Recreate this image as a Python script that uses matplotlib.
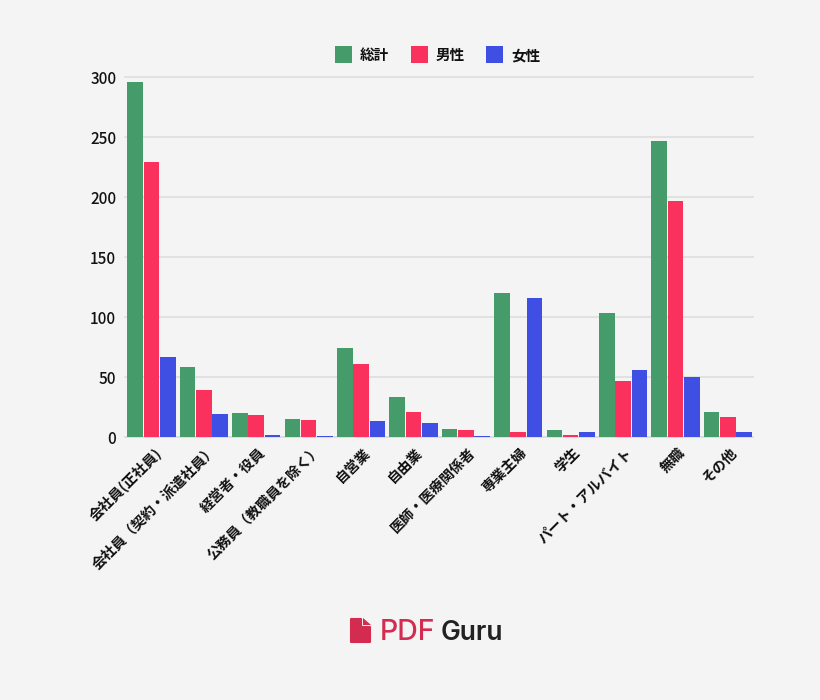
import matplotlib
matplotlib.use("Agg")
import matplotlib.pyplot as plt
import numpy as np
from matplotlib.patches import Polygon

plt.rcParams['font.family'] = ['Noto Sans CJK JP', 'DejaVu Sans']

categories = ["会社員(正社員)", "会社員（契約・派遣社員）", "経営者・役員", "公務員（教職員を除く）",
              "自営業", "自由業", "医師・医療関係者", "専業主婦", "学生", "パート・アルバイト", "無職", "その他"]
total = [296, 58, 20, 15, 74, 33, 7, 120, 6, 103, 247, 21]
male = [229, 39, 18, 14, 61, 21, 6, 4, 2, 47, 197, 17]
female = [67, 19, 2, 1, 13, 12, 1, 116, 4, 56, 50, 4]
series_names = ["総計", "男性", "女性"]
colors = ["#459B69", "#F9315C", "#3F4FE3"]
yticks = [0, 50, 100, 150, 200, 250, 300]

W, H = 820, 700
BG = "#F4F4F4"
fig = plt.figure(figsize=(8.2001, 7.0001), dpi=100, facecolor=BG)
ax = fig.add_axes([125.3/W, 1-437/H, 627.7/W, 360/H], facecolor=BG)

x = np.arange(len(categories))
bw = 15.6/52.4
step = 16.3/52.4
for i, (vals, c, n) in enumerate(zip([total, male, female], colors, series_names)):
    ax.bar(x + (i-1)*step, vals, width=bw, color=c, label=n, zorder=3)

ax.set_xlim(-0.5, 11.48)
ax.set_ylim(0, 300)
ax.set_yticks(yticks)
ax.set_yticklabels([str(v) for v in yticks], fontsize=11, fontweight='medium', color='#111111')
ax.yaxis.grid(True, color='#DCDCDC', lw=1.1, zorder=0)
for g in ax.get_ygridlines():
    g.set_clip_on(False)
ax.set_axisbelow(True)
ax.tick_params(axis='y', length=0, pad=6.5)
ax.tick_params(axis='x', length=0, pad=6)
ax.set_xticks(x)
ax.set_xticklabels(categories, rotation=45, ha='right', rotation_mode='anchor',
                   fontsize=10.2, fontweight='bold', color='#111111')
for t in ax.get_xticklabels():
    # a trailing full-width bracket leaves a blank half em: pull such labels up along their slope
    dx = 5.5 if t.get_text().endswith("）") else 2
    dy = 3.5 if t.get_text().endswith("）") else 0
    offs = matplotlib.transforms.ScaledTranslation(dx/100, dy/100, fig.dpi_scale_trans)
    t.set_transform(t.get_transform() + offs)
for s in ['top', 'right', 'left']:
    ax.spines[s].set_visible(False)
ax.spines['bottom'].set_color('#DCDCDC')
ax.spines['bottom'].set_linewidth(1.1)

# legend
ov = fig.add_axes([0, 0, 1, 1], facecolor='none')
ov.set_xlim(0, W); ov.set_ylim(H, 0); ov.axis('off')
for lx, tx, c, n in zip([335, 411, 486], [360, 436, 511.5], colors, series_names):
    ov.add_patch(plt.Rectangle((lx, 46.5), 17, 17, color=c, lw=0))
    ov.text(tx, 60, n, fontsize=10.5, fontweight='bold', va='baseline', ha='left', color='#111111')

# logo
logo = "#D42C50"
ov.add_patch(Polygon([(351, 619), (360.5, 619), (360.5, 627), (370, 627), (370, 642), (351, 642)],
                     closed=True, facecolor=logo, edgecolor=logo, lw=1.5, joinstyle='round'))
ov.add_patch(Polygon([(363, 618), (371, 625), (363, 625)], closed=True, color=logo, lw=0))
ov.text(380, 640, "PDF", fontsize=20.5, fontweight='medium', color=logo,
        family=['Inter', 'DejaVu Sans'], va='baseline', ha='left')
ov.text(440.5, 640, "Guru", fontsize=19, fontweight='semibold', color='#222222',
        family=['Inter', 'DejaVu Sans'], va='baseline', ha='left')

fig.savefig("out.png", dpi=100, facecolor=BG)
